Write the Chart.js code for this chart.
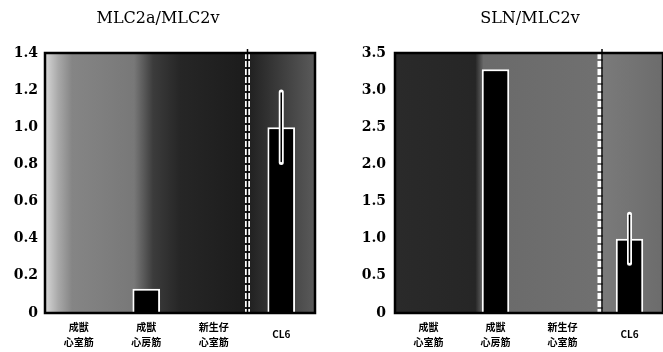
<!DOCTYPE html>
<html>
<head>
<meta charset="utf-8">
<script src="https://cdn.jsdelivr.net/npm/chart.js@4.4.0/dist/chart.umd.min.js"></script>
<style>
  html, body { margin: 0; padding: 0; background: #fff; }
  #wrap { position: relative; width: 663px; height: 352px; overflow: hidden; }
  canvas { position: absolute; top: 0; }
</style>
</head>
<body>
<div id="wrap">
  <canvas id="mlc" width="330" height="352" style="left:0"></canvas>
  <canvas id="sln" width="330" height="352" style="left:333px"></canvas>
</div>
<script>
// data
const categories = [['成獣', '心室筋'], ['成獣', '心房筋'], ['新生仔', '心室筋'], 'CL6'];
const mlcRatio = [0, 0.13, 0, 1.0];
const mlcError = [0, 0, 0, 0.19];
const slnRatio = [0, 3.28, 0, 1.0];
const slnError = [0, 0, 0, 0.33];
const mlcTicks = [0, 0.2, 0.4, 0.6, 0.8, 1.0, 1.2, 1.4];
const slnTicks = [0, 0.5, 1.0, 1.5, 2.0, 2.5, 3.0, 3.5];

const panelPlugin = {
    id: 'panel',
    beforeDatasetsDraw(chart, args, opts) {
        const ctx = chart.ctx;
        const a = chart.chartArea;
        ctx.save();
        // greyish scanned background
        const g = ctx.createLinearGradient(a.left, 0, a.right, 0);
        opts.shades.forEach(s => g.addColorStop(s[0], s[1]));
        ctx.fillStyle = g;
        ctx.fillRect(a.left, a.top, a.width, a.height);
        // divider before CL6
        const xs = chart.scales.x;
        const sx = (xs.getPixelForValue(2) + xs.getPixelForValue(3)) / 2 + opts.sepShift;
        ctx.strokeStyle = '#fff';
        ctx.lineWidth = 5;
        ctx.setLineDash([6, 2]);
        ctx.beginPath();
        ctx.moveTo(sx, a.top);
        ctx.lineTo(sx, a.bottom);
        ctx.stroke();
        ctx.setLineDash([]);
        ctx.strokeStyle = '#000';
        ctx.lineWidth = 1.5;
        ctx.beginPath();
        ctx.moveTo(sx + opts.sepInner, a.top - 4);
        ctx.lineTo(sx + opts.sepInner, a.bottom);
        ctx.stroke();
        ctx.restore();
    },
    afterDatasetsDraw(chart, args, opts) {
        const ctx = chart.ctx;
        const a = chart.chartArea;
        const ys = chart.scales.y;
        const meta = chart.getDatasetMeta(0);
        const vals = chart.data.datasets[0].data;
        ctx.save();
        opts.errors.forEach((e, i) => {
            if (!e) return;
            const x = meta.data[i].x;
            const top = ys.getPixelForValue(vals[i] + e);
            const bot = ys.getPixelForValue(vals[i] - e);
            ctx.lineCap = 'round';
            ctx.strokeStyle = '#fff';
            ctx.lineWidth = 5;
            ctx.beginPath(); ctx.moveTo(x, top); ctx.lineTo(x, bot); ctx.stroke();
            ctx.strokeStyle = '#000';
            ctx.lineWidth = 1.5;
            ctx.beginPath(); ctx.moveTo(x, top + 1); ctx.lineTo(x, bot - 1); ctx.stroke();
        });
        // frame
        ctx.strokeStyle = '#000';
        ctx.lineWidth = 2.5;
        ctx.strokeRect(a.left, a.top, a.width, a.height);
        // title
        ctx.fillStyle = '#000';
        ctx.font = '16px "DejaVu Serif"';
        ctx.textAlign = 'center';
        ctx.textBaseline = 'middle';
        ctx.fillText(opts.title, opts.titleX, 19);
        ctx.restore();
    }
};

function makeChart(id, values, errors, ticks, title, titleX, axisWidth, tickPad, padRight, shades, sepShift, sepInner) {
    new Chart(document.getElementById(id), {
        type: 'bar',
        data: {
            labels: categories,
            datasets: [{
                data: values,
                backgroundColor: '#000',
                borderColor: '#fff',
                borderWidth: 2,
                borderSkipped: 'bottom',
                barPercentage: 0.41,
                categoryPercentage: 1
            }]
        },
        options: {
            responsive: false,
            animation: false,
            layout: { padding: { top: 53, right: padRight, left: 0, bottom: 0 } },
            plugins: {
                legend: { display: false },
                tooltip: { enabled: false },
                title: { display: false },
                panel: { errors: errors, title: title, titleX: titleX, shades: shades, sepShift: sepShift, sepInner: sepInner }
            },
            scales: {
                x: {
                    grid: { display: false, drawTicks: false },
                    border: { display: false },
                    ticks: {
                        color: '#000',
                        crossAlign: 'center',
                        padding: 14,
                        maxRotation: 0,
                        autoSkip: false,
                        font: { family: '"Noto Sans CJK JP"', size: 10, weight: 'bold', lineHeight: 1.5 }
                    },
                    afterFit: s => { s.height = 39; }
                },
                y: {
                    min: ticks[0],
                    max: ticks[ticks.length - 1],
                    grid: { display: false, drawTicks: false },
                    border: { display: false },
                    afterBuildTicks: s => { s.ticks = ticks.map(v => ({ value: v })); },
                    ticks: {
                        color: '#000',
                        padding: tickPad,
                        font: { family: '"DejaVu Serif"', size: 14, weight: 'bold' },
                        callback: v => v === 0 ? '0' : v.toFixed(1)
                    },
                    afterFit: s => { s.width = axisWidth; }
                }
            }
        },
        plugins: [panelPlugin]
    });
}

makeChart('mlc', mlcRatio, mlcError, mlcTicks, 'MLC2a/MLC2v', 158, 45, 7, 15,
    [[0, '#d8d8d8'], [0.05, '#a8a8a8'], [0.1, '#858585'], [0.33, '#787878'], [0.4, '#3c3c3c'],
     [0.5, '#262626'], [0.74, '#1c1c1c'], [0.8, '#2c2c2c'], [1, '#5a5a5a']],
    0, 0);

makeChart('sln', slnRatio, slnError, slnTicks, 'SLN/MLC2v', 197, 62, 9, 0,
    [[0, '#2a2a2a'], [0.3, '#262626'], [0.33, '#6a6a6a'], [0.75, '#707070'], [0.78, '#7a7a7a'], [1, '#6c6c6c']],
    4, 2);
</script>
</body>
</html>
